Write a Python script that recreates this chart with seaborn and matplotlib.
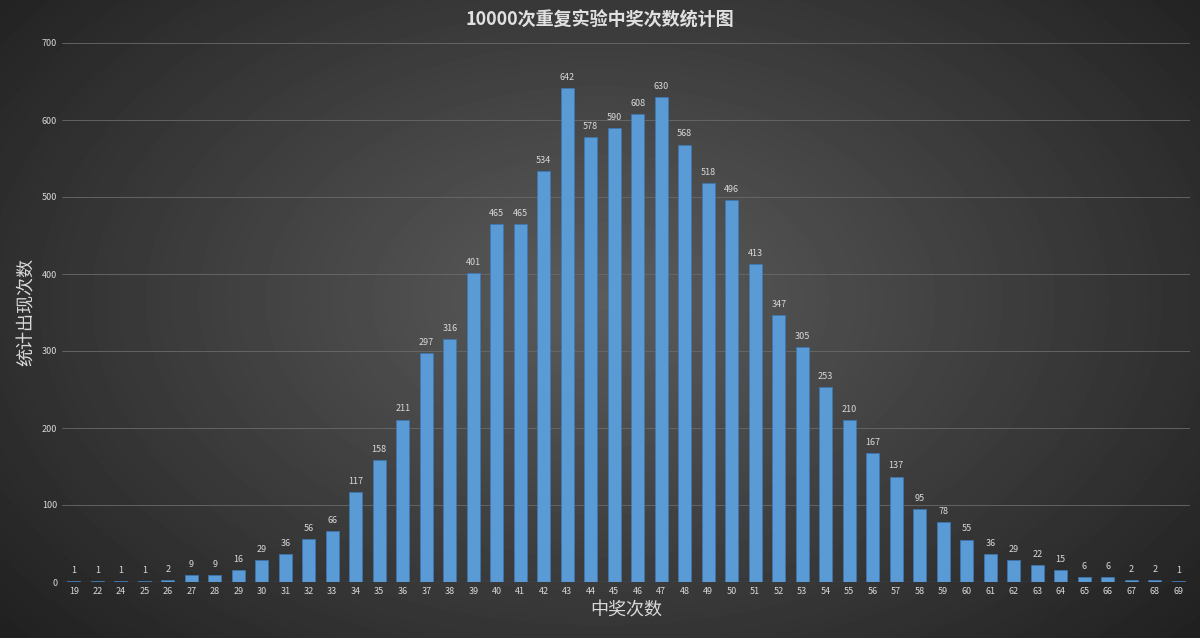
import numpy as np
import pandas as pd
import matplotlib
matplotlib.use("Agg")
import matplotlib.pyplot as plt
import seaborn as sns

categories = [19, 22, 24, 25, 26] + list(range(27, 70))
values = [1, 1, 1, 1, 2, 9, 9, 16, 29, 36, 56, 66, 117, 158, 211, 297, 316, 401, 465, 465,
          534, 642, 578, 590, 608, 630, 568, 518, 496, 413, 347, 305, 253, 210, 167, 137,
          95, 78, 55, 36, 29, 22, 15, 6, 6, 2, 2, 1]
labels = [str(c) for c in categories]

sns.set_theme(style="dark")
plt.rcParams['font.family'] = ['Noto Sans CJK SC', 'DejaVu Sans']

fig = plt.figure(figsize=(12, 6.38), dpi=100)
bg = fig.add_axes([0, 0, 1, 1])
yy, xx = np.mgrid[0:638, 0:1200]
r = np.sqrt(((xx - 600) / 750) ** 2 + ((yy - 300) / 480) ** 2)
img = np.clip(0.36 - 0.22 * r, 0.1, 0.4)
bg.imshow(img, cmap='gray', vmin=0, vmax=1, aspect='auto', extent=[0, 1, 0, 1])
bg.axis('off')

ax = fig.add_axes([62 / 1200, 1 - 582 / 638, 1128 / 1200, (582 - 43) / 638])
ax.patch.set_alpha(0)
df = pd.DataFrame({'x': labels, 'y': values})
sns.barplot(data=df, x='x', y='y', ax=ax, color='#5b9bd5', width=0.55, saturation=1,
            edgecolor='#3a78b8', linewidth=0.5)
for i, v in enumerate(values):
    ax.text(i, v + 8, str(v), ha='center', va='bottom', fontsize=6.5, color='#d9d9d9')
ax.set_ylim(0, 700)
ax.set_xlim(-0.5, len(values) - 0.5)
ax.set_yticks(range(0, 701, 100))
ax.yaxis.grid(True, color='#6a6a6a', linewidth=0.6)
ax.xaxis.grid(False)
ax.tick_params(axis='both', colors='#d9d9d9', labelsize=6.5, length=0)
for s in ax.spines.values():
    s.set_visible(False)
ax.axhline(0, color='#888888', linewidth=0.8)
ax.set_xlabel('中奖次数', color='#d9d9d9', fontsize=13)
ax.set_ylabel('统计出现次数', color='#d9d9d9', fontsize=13)
fig.text(0.5, 0.968, '10000次重复实验中奖次数统计图', ha='center', va='center',
         color='#e0e0e0', fontsize=13, fontweight='bold')
fig.savefig('out.png', dpi=100)
